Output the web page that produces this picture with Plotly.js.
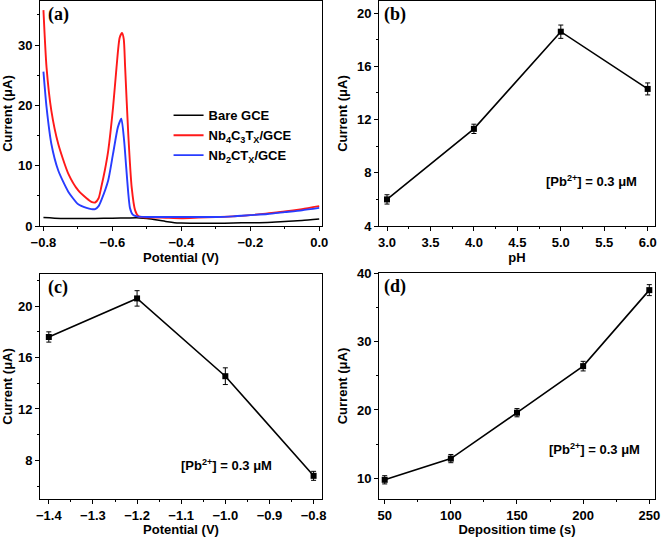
<!DOCTYPE html>
<html>
<head>
<meta charset="utf-8">
<script src="https://cdn.plot.ly/plotly-3.0.1.min.js"></script>
<style>
  html, body { margin: 0; padding: 0; background: #fff; }
  #plot { width: 661px; height: 537px; }
</style>
</head>
<body>
<div id="plot"></div>
<script>
// (a) stripping voltammograms
var bareX = [-0.8, -0.75, -0.70, -0.65, -0.60, -0.55, -0.52, -0.50, -0.47, -0.44, -0.42, -0.40, -0.35, -0.30, -0.25, -0.20, -0.15, -0.10, -0.05, 0.0];
var bareY = [1.4, 1.25, 1.25, 1.25, 1.3, 1.35, 1.35, 1.25, 1.0, 0.7, 0.55, 0.5, 0.45, 0.45, 0.5, 0.55, 0.6, 0.75, 0.9, 1.15];

var nb4X = [-0.8, -0.791, -0.777, -0.757, -0.728, -0.699, -0.675, -0.661, -0.650, -0.640, -0.632, -0.622, -0.612, -0.598, -0.588, -0.579, -0.572, -0.567, -0.563, -0.554, -0.544, -0.534, -0.524, -0.50, -0.46, -0.40, -0.35, -0.30, -0.25, -0.20, -0.15, -0.10, -0.05, 0.0];
var nb4Y = [35.8, 26.3, 19.1, 13.6, 8.7, 5.9, 4.6, 4.0, 3.9, 4.6, 6.5, 9.2, 12.5, 19.7, 26.3, 31.2, 32.0, 31.0, 26.3, 15.3, 6.4, 2.6, 1.6, 1.4, 1.4, 1.3, 1.4, 1.5, 1.6, 1.8, 2.1, 2.4, 2.8, 3.3];

var nb2X = [-0.8, -0.791, -0.777, -0.757, -0.728, -0.699, -0.675, -0.661, -0.650, -0.640, -0.632, -0.612, -0.598, -0.584, -0.574, -0.566, -0.560, -0.554, -0.549, -0.541, -0.529, -0.50, -0.46, -0.40, -0.35, -0.30, -0.25, -0.20, -0.15, -0.10, -0.05, 0.0];
var nb2Y = [25.6, 19.7, 13.6, 9.2, 5.7, 3.6, 3.0, 2.8, 2.8, 3.3, 4.3, 7.6, 12.0, 16.4, 17.8, 14.2, 9.8, 5.5, 3.0, 1.9, 1.6, 1.5, 1.5, 1.5, 1.5, 1.5, 1.6, 1.8, 2.0, 2.3, 2.6, 3.0];

// (b) pH
var phX = [3.0, 4.0, 5.0, 6.0];
var phY = [6.0, 11.3, 18.6, 14.3];
var phErr = [0.35, 0.35, 0.5, 0.45];

// (c) deposition potential
var potX = [-1.4, -1.2, -1.0, -0.8];
var potY = [17.6, 20.6, 14.55, 6.8];
var potErr = [0.4, 0.6, 0.65, 0.35];

// (d) deposition time
var timeX = [50, 100, 150, 200, 250];
var timeY = [9.8, 12.9, 19.6, 26.4, 37.5];
var timeErr = [0.6, 0.6, 0.6, 0.7, 0.8];

var tickFont = {family: 'Liberation Sans, Arial, sans-serif', size: 13, color: '#000', weight: 'bold'};
var titleFont = {family: 'Liberation Sans, Arial, sans-serif', size: 13, color: '#000', weight: 'bold'};
var noteFont = {family: 'Liberation Sans, Arial, sans-serif', size: 13, color: '#000', weight: 'bold'};

function ptTrace(x, y, err, xa, ya) {
    return {
        x: x, y: y, xaxis: xa, yaxis: ya,
        type: 'scatter', mode: 'lines+markers', showlegend: false,
        line: {color: '#000', width: 1.6},
        marker: {symbol: 'square', size: 6, color: '#000'},
        error_y: {type: 'data', array: err, visible: true, color: '#000', thickness: 1, width: 2.5}
    };
}

var data = [
    {x: bareX, y: bareY, name: '<b>Bare GCE</b>', type: 'scatter', mode: 'lines',
     line: {color: '#000', width: 1.5, shape: 'spline', smoothing: 0.6}},
    {x: nb4X, y: nb4Y, name: '<b>Nb<sub>4</sub>C<sub>3</sub>T<sub>X</sub>/GCE</b>', type: 'scatter', mode: 'lines',
     line: {color: 'rgb(255,25,25)', width: 1.9, shape: 'spline', smoothing: 0.6}},
    {x: nb2X, y: nb2Y, name: '<b>Nb<sub>2</sub>CT<sub>X</sub>/GCE</b>', type: 'scatter', mode: 'lines',
     line: {color: 'rgb(40,60,255)', width: 1.9, shape: 'spline', smoothing: 0.6}},
    ptTrace(phX, phY, phErr, 'x2', 'y2'),
    ptTrace(potX, potY, potErr, 'x3', 'y3'),
    ptTrace(timeX, timeY, timeErr, 'x4', 'y4')
];

function ax(domain, range, dtick, minorDtick, fmt, title, standoff, anchor) {
    return {
        domain: domain, range: range, anchor: anchor,
        showline: true, linecolor: '#000', linewidth: 1, mirror: true,
        ticks: 'outside', ticklen: 4, tickcolor: '#000', tickwidth: 1,
        dtick: dtick, tick0: 0, tickformat: fmt,
        minor: {ticks: 'outside', ticklen: 2, dtick: minorDtick, tickcolor: '#000'},
        showgrid: false, zeroline: false,
        tickfont: tickFont,
        title: {text: title, font: titleFont, standoff: standoff}
    };
}

var xA = [0.0605, 0.4871], xB = [0.5734, 0.9909];
var yTop = [0.5791, 0.998], yBot = [0.0708, 0.4898];

function note(xr, yr, x, y) {
    return {text: '<b>[Pb<sup>2+</sup>] = 0.3 μM</b>', xref: xr, yref: yr, x: x, y: y,
            xanchor: 'center', yanchor: 'middle', showarrow: false, font: noteFont};
}
function panel(lbl, xr, yr, x) {
    return {text: '<b>' + lbl + '</b>', xref: xr, yref: yr, x: x, y: 0.995, xanchor: 'left', yanchor: 'top',
            showarrow: false, font: {family: 'Liberation Serif, Times New Roman, serif', size: 18, color: '#000'}};
}

var layout = {
    width: 661, height: 537,
    margin: {l: 0, r: 0, t: 0, b: 0},
    paper_bgcolor: '#fff', plot_bgcolor: '#fff',
    xaxis: ax(xA, [-0.81, 0.008], 0.2, 0.1, '.1f', 'Potential (V)', 3, 'y'),
    yaxis: ax(yTop, [0, 37.3], 10, 5, '', 'Current (μA)', 6, 'x'),
    xaxis2: ax(xB, [2.908, 6.084], 0.5, 0.25, '.1f', 'pH', 3, 'y2'),
    yaxis2: ax(yTop, [4, 20.9], 4, 2, '', 'Current (μA)', 6, 'x2'),
    xaxis3: ax(xA, [-1.42, -0.781], 0.1, 0.05, '.1f', 'Potential (V)', 3, 'y3'),
    yaxis3: ax(yBot, [5, 22.5], 4, 2, '', 'Current (μA)', 6, 'x3'),
    xaxis4: ax(xB, [45.7, 254.3], 50, 25, '', 'Deposition time (s)', 3, 'y4'),
    yaxis4: ax([0.0708, 0.4916], [7, 40], 10, 5, '', 'Current (μA)', 6, 'x4'),
    legend: {
        x: 0.255, y: 0.813, xanchor: 'left', yanchor: 'top',
        bgcolor: 'rgba(0,0,0,0)', borderwidth: 0,
        font: {family: 'Liberation Sans, Arial, sans-serif', size: 13, color: '#000'},
        itemwidth: 30, tracegroupgap: 0
    },
    annotations: [
        panel('(a)', 'x domain', 'y domain', 0.022),
        panel('(b)', 'x2 domain', 'y2 domain', 0.012),
        panel('(c)', 'x3 domain', 'y3 domain', 0.022),
        panel('(d)', 'x4 domain', 'y4 domain', 0.012),
        note('x2 domain', 'y2 domain', 0.77, 0.2),
        note('x3 domain', 'y3 domain', 0.66, 0.15),
        note('x4 domain', 'y4 domain', 0.78, 0.22)
    ]
};

Plotly.newPlot('plot', data, layout, {staticPlot: true});
</script>
</body>
</html>
